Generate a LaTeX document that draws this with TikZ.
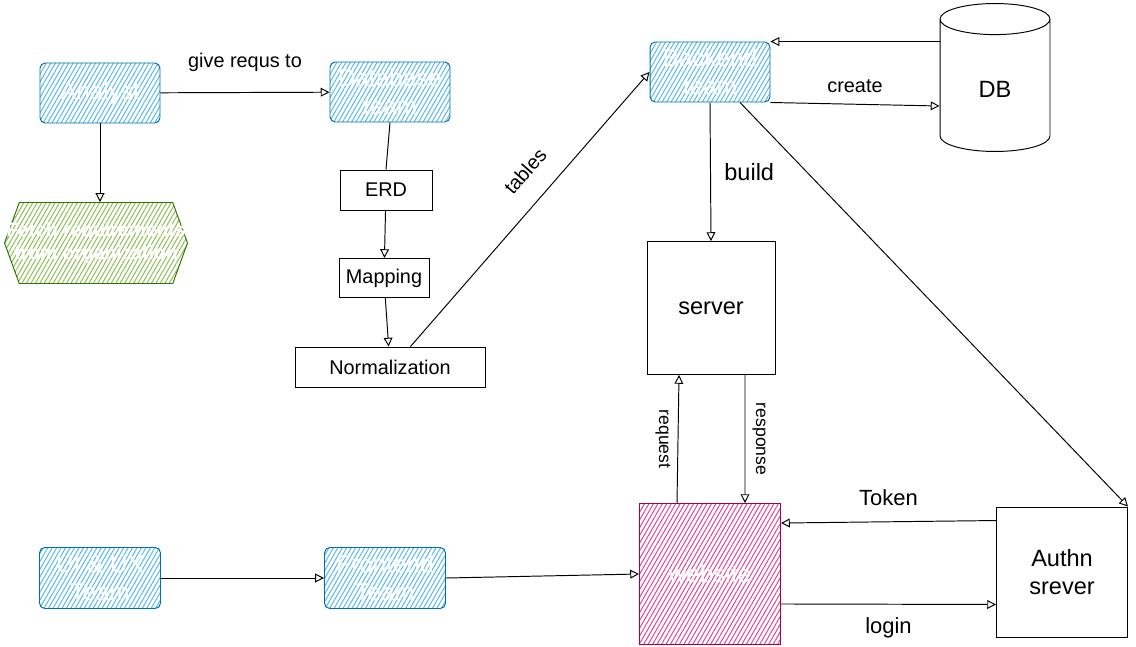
\documentclass[tikz,border=0pt]{standalone}
\usepackage{fontspec}
\setmainfont{Liberation Sans}
\usetikzlibrary{arrows.meta,positioning,shapes.geometric,shapes.symbols,patterns.meta,calc}

\definecolor{teamblue}{HTML}{1BA1E2}
\definecolor{teamline}{HTML}{006EAF}
\definecolor{reqgreen}{HTML}{60A917}
\definecolor{reqline}{HTML}{2D7600}
\definecolor{webpink}{HTML}{D80073}
\definecolor{webline}{HTML}{A50040}

\begin{document}
\begin{tikzpicture}[x=0.02cm, y=-0.02cm, align=center, every path/.style={line width=0.55pt},
  font=\fontsize{11.3}{13.6}\selectfont,
  >={Triangle[open,length=5pt,width=5pt]},
  hatch/.style={pattern={Lines[angle=60,distance=2.2pt,line width=0.55pt]}},
  team/.style={draw=teamline, hatch, pattern color=teamblue!75, rounded corners=3pt, text=white,
    font=\fontsize{13.8}{16}\selectfont, inner sep=1pt, minimum width=2.4cm, minimum height=1.2cm},
  task/.style={draw, inner sep=2pt, minimum height=0.8cm},
  big/.style={draw, font=\fontsize{13.4}{16}\selectfont}]

\useasboundingbox (0,0) rectangle (1136,646);

\node (analyst) [team] at (100,93) {Analyst};
\node (database) [team] at (390,92) {Database\\team};
\node (fetch) [draw=reqline, hatch, pattern color=reqgreen!75, signal, signal to=east and west,
  signal pointer angle=140, text=white, font=\bfseries\fontsize{11}{13.4}\selectfont, inner xsep=-0.5cm,
  minimum width=3.66cm, minimum height=1.62cm] at (96,243) {Fetch requirements\\from organization};

\draw[->] (analyst) -- node[above=0.3cm] {give requs to} (database);
\draw[->] (analyst.south) -- (analyst.south |- fetch.north);

% -------------------------------

\node (erd) [task, minimum width=1.84cm] at (386,190) {ERD};
\node (mapping) [task, minimum width=1.8cm, minimum height=0.78cm] at (384,278) {Mapping};
\node (normalization) [task, minimum width=3.8cm] at (390,367) {Normalization};

\draw (database.south) -- (erd.north);
\draw[->] (erd) -- (mapping);
\draw[->] (mapping) -- (normalization);

% -------------------------------

\node (backend) [team] at (710,72) {Backend\\team};
\node (db) [big, cylinder, shape border rotate=90, shape aspect=0.7, minimum width=2.2cm,
  minimum height=2.96cm] at (995,89) {DB};
\node (server) [big, minimum width=2.56cm, minimum height=2.66cm] at (711,308) {server};

\draw[->] (normalization.45) -- node[pos=0.57, sloped, above=0.3cm] {tables} (backend.west);
\draw[->] (db.west |- backend.north) -- (backend.north east);
\draw[->] (backend.south east) -- node[above=0.1cm] {create} ($(db.west)+(0,17)$);
\draw[->] (backend.south) -- node[right=0.15cm, font=\fontsize{13.4}{16}\selectfont] {build} (server.north);

% -------------------------------

\node (website) [draw=webline, hatch, pattern color=webpink!75, text=white,
  font=\fontsize{13.8}{16}\selectfont, minimum width=2.82cm, minimum height=2.82cm] at (710,574) {website};
\node (authn) [big, minimum width=2.62cm, minimum height=2.6cm] at (1062,572) {Authn\\srever};

\draw[->] ([xshift=-0.66cm]website.north) -- node[midway, rotate=-90, anchor=north, inner sep=4pt,
  font=\fontsize{10}{12}\selectfont] {request} ([xshift=-0.64cm]server.south);
\draw[->] ([xshift=0.68cm]server.south) -- node[midway, rotate=-90, anchor=south, inner sep=4pt,
  font=\fontsize{10}{12}\selectfont] {response} ([xshift=0.7cm]website.north);
\draw[->] ($(backend.south)+(30,0)$) -- (authn.north east);
\draw[->] ([yshift=-0.28cm]authn.north west) -- node[above=0.2cm, font=\fontsize{12.5}{15}\selectfont] {Token}
  ([yshift=-0.4cm]website.north east);
\draw[->] ([yshift=0.82cm]website.south east) -- node[below=0.15cm, font=\fontsize{12.5}{15}\selectfont] {login}
  ([yshift=0.66cm]authn.south west);

% -------------------------------

\node (uiux) [team, minimum width=2.42cm, minimum height=1.22cm] at (100,578) {UI \& UX\\Team};
\node (frontend) [team, minimum width=2.42cm, minimum height=1.22cm] at (385,578) {Frontend\\Team};

\draw[->] (uiux) -- (frontend);
\draw[->] (frontend.east) -- (website.west);
\end{tikzpicture}
\end{document}
